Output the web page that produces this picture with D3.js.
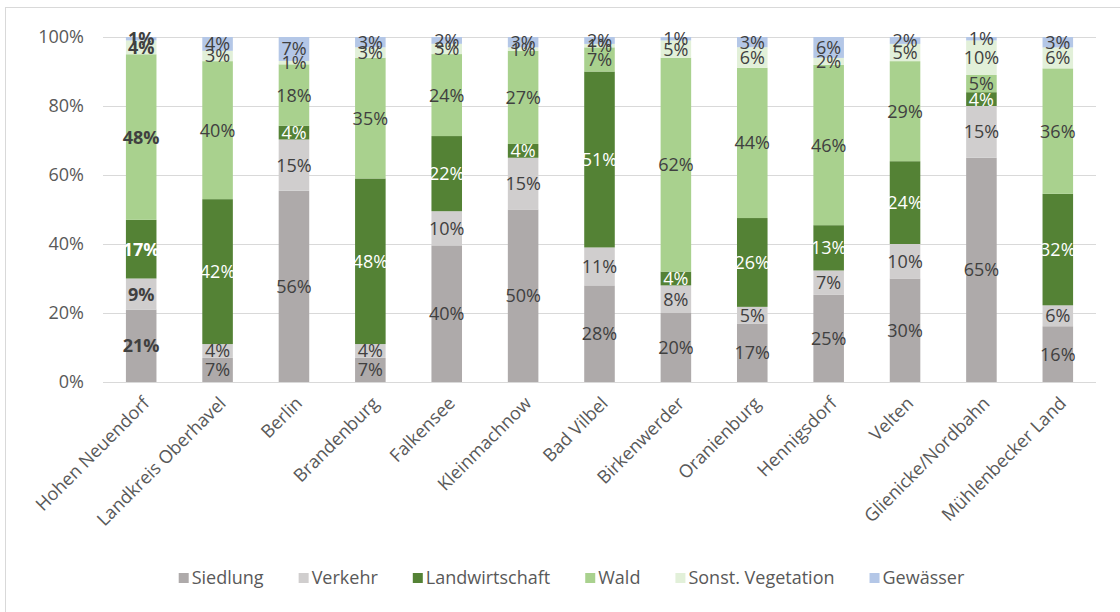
<!DOCTYPE html>
<html>
<head>
<meta charset="utf-8">
<script src="https://cdn.jsdelivr.net/npm/d3@7"></script>
<style>
  html, body { margin: 0; padding: 0; background: #fff; }
  svg { display: block; }
  text { font-family: "Open Sans", "Noto Sans", sans-serif; }
</style>
</head>
<body>
<svg id="chart" width="1120" height="612"></svg>
<script>
const categories = ["Hohen Neuendorf", "Landkreis Oberhavel", "Berlin", "Brandenburg", "Falkensee", "Kleinmachnow", "Bad Vilbel", "Birkenwerder", "Oranienburg", "Hennigsdorf", "Velten", "Glienicke/Nordbahn", "Mühlenbecker Land"];
const seriesNames = ["Siedlung", "Verkehr", "Landwirtschaft", "Wald", "Sonst. Vegetation", "Gewässer"];
const siedlung       = [21, 7, 56, 7, 40, 50, 28, 20, 17, 25, 30, 65, 16];
const verkehr        = [9, 4, 15, 4, 10, 15, 11, 8, 5, 7, 10, 15, 6];
const landwirtschaft = [17, 42, 4, 48, 22, 4, 51, 4, 26, 13, 24, 4, 32];
const wald           = [48, 40, 18, 35, 24, 27, 7, 62, 44, 46, 29, 5, 36];
const sonstVeg       = [4, 3, 1, 3, 3, 1, 1, 5, 6, 2, 5, 10, 6];
const gewaesser      = [1, 4, 7, 3, 2, 3, 2, 1, 3, 6, 2, 1, 3];
const yTicks = [0, 0.2, 0.4, 0.6, 0.8, 1.0];

const colors = ["#AEAAAA", "#D0CECE", "#548235", "#A9D18E", "#E2F0D9", "#B4C7E7"];
const seriesValues = [siedlung, verkehr, landwirtschaft, wald, sonstVeg, gewaesser];

const table = categories.map((c, i) => {
  const row = { cat: c };
  seriesNames.forEach((s, k) => row[s] = seriesValues[k][i]);
  return row;
});

const svg = d3.select("#chart");

// outer border
svg.append("rect").attr("x", 5.5).attr("y", 7.5).attr("width", 1130).attr("height", 620)
  .attr("fill", "none").attr("stroke", "#d9d9d9").attr("stroke-width", 1);

const x = d3.scaleBand().domain(categories).range([103, 1096]).paddingInner(0.6).paddingOuter(0.3);
const y = d3.scaleLinear().domain([0, 1]).range([382, 37]);

// gridlines
svg.append("g").selectAll("line").data(yTicks).join("line")
  .attr("x1", 103).attr("x2", 1096)
  .attr("y1", d => Math.round(y(d)) + 0.5).attr("y2", d => Math.round(y(d)) + 0.5)
  .attr("stroke", "#d9d9d9").attr("stroke-width", 1);

// y axis labels
const yAxis = d3.axisLeft(y).tickValues(yTicks).tickFormat(d3.format(".0%")).tickSize(0).tickPadding(0);
const yg = svg.append("g").attr("transform", "translate(84,0)").call(yAxis);
yg.select(".domain").remove();
yg.selectAll("text").attr("font-size", 18).attr("fill", "#595959").attr("font-family", "Open Sans, sans-serif");

const stack = d3.stack().keys(seriesNames).offset(d3.stackOffsetExpand);
const stacked = stack(table);

const layers = svg.append("g").selectAll("g").data(stacked).join("g")
  .attr("fill", (d, i) => colors[i]);
layers.selectAll("rect").data(d => d).join("rect")
  .attr("x", d => x(d.data.cat))
  .attr("width", x.bandwidth())
  .attr("y", d => y(d[1]))
  .attr("height", d => y(d[0]) - y(d[1]));

// data labels
const lbl = svg.append("g");
stacked.forEach((layer, k) => {
  layer.forEach((d, i) => {
    const v = d.data[layer.key];
    lbl.append("text")
      .attr("x", x(d.data.cat) + x.bandwidth() / 2)
      .attr("y", y((d[0] + d[1]) / 2))
      .attr("dy", "0.36em")
      .attr("text-anchor", "middle")
      .attr("font-size", 18)
      .attr("font-weight", i === 0 ? "bold" : "normal")
      .attr("fill", k === 2 ? "#ffffff" : "#404040")
      .text(v + "%");
  });
});

// x axis labels
const xl = svg.append("g");
categories.forEach(c => {
  const cx = x(c) + x.bandwidth() / 2;
  xl.append("text")
    .attr("transform", `translate(${cx + 5},${400}) rotate(-45)`)
    .attr("text-anchor", "end")
    .attr("dy", "0.35em")
    .attr("font-size", 18)
    .attr("fill", "#595959")
    .text(c);
});

// legend
const lg = svg.append("g");
const items = [];
seriesNames.forEach((s, k) => {
  const g = lg.append("g");
  g.append("rect").attr("x", 0).attr("y", -5).attr("width", 10).attr("height", 10).attr("fill", colors[k]);
  const t = g.append("text").attr("x", 13).attr("dy", "0.35em").attr("font-size", 18).attr("fill", "#595959").text(s);
  items.push({ g, w: 13 + t.node().getComputedTextLength() });
});
const gap = 35;
const total = d3.sum(items, d => d.w) + gap * (items.length - 1);
let cur = 571.5 - total / 2;
items.forEach(it => {
  it.g.attr("transform", `translate(${cur},578)`);
  cur += it.w + gap;
});
</script>
</body>
</html>
